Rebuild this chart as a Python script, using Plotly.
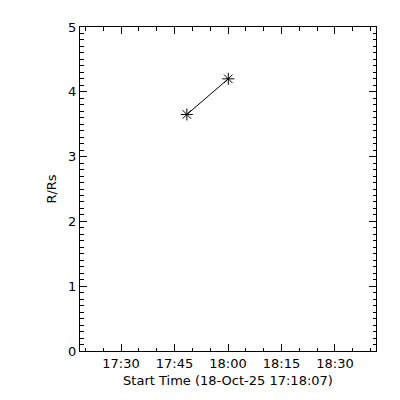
import plotly.graph_objects as go

times = ["2025-10-18 17:48:28", "2025-10-18 18:00:05"]
r_rs = [3.65, 4.20]

x_range = ["2025-10-18 17:18:30", "2025-10-18 18:41:30"]
y_range = [0, 5]
x_title = "Start Time (18-Oct-25 17:18:07)"
y_title = "R/Rs"

fig = go.Figure()
fig.add_trace(go.Scatter(
    x=times, y=r_rs, mode="lines+markers",
    line=dict(color="black", width=1),
    marker=dict(symbol="asterisk-open", size=10, color="black",
                line=dict(color="black", width=1)),
    showlegend=False,
))

font = dict(family="DejaVu Sans", size=13, color="black")
fig.update_layout(
    width=400, height=400,
    margin=dict(l=72, r=32, t=15, b=57),
    paper_bgcolor="white", plot_bgcolor="white",
    font=font,
    xaxis=dict(
        type="date", range=x_range,
        tick0="2025-10-18 17:30:00", dtick=900000, tickformat="%H:%M",
        ticks="inside", ticklen=7, tickcolor="black", tickwidth=1,
        minor=dict(dtick=300000, tick0="2025-10-18 17:30:00", ticks="inside",
                   ticklen=3.5, tickcolor="black", showgrid=False),
        showline=True, linecolor="black", linewidth=1, mirror="allticks",
        showgrid=False, zeroline=False,
        title=dict(text=x_title, standoff=6, font=font),
        tickfont=font,
    ),
    yaxis=dict(
        range=y_range, dtick=1, tick0=0,
        ticks="inside", ticklen=7, tickcolor="black", tickwidth=1,
        minor=dict(dtick=0.1, ticks="inside", ticklen=3.5, tickcolor="black",
                   showgrid=False),
        showline=True, linecolor="black", linewidth=1, mirror="allticks",
        showgrid=False, zeroline=False,
        title=dict(text=y_title, standoff=8, font=font),
        tickfont=font,
    ),
)

fig.write_html("out.html")
